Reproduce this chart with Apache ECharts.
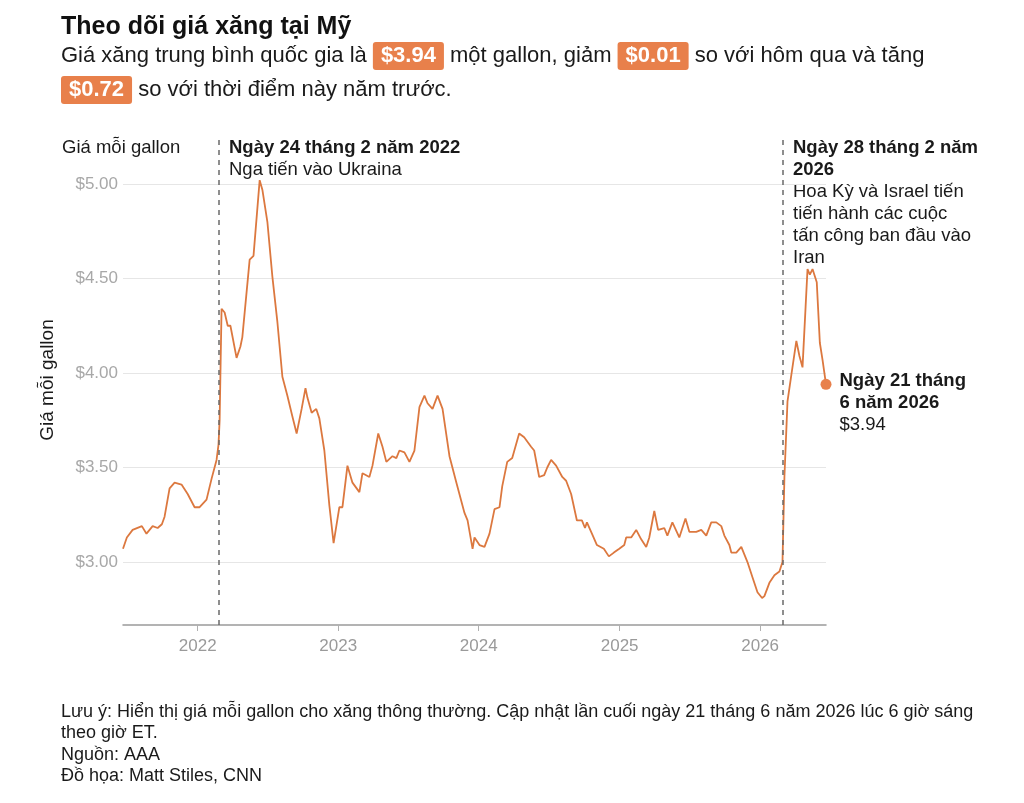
<!DOCTYPE html>
<html><head><meta charset="utf-8">
<script src="https://cdn.jsdelivr.net/npm/echarts@6.0.0/dist/echarts.min.js"></script>
<style>html,body{margin:0;padding:0;background:#fff}#c{width:1024px;height:803px}</style>
</head><body><div id="c"></div>
<script>
const dates = ['2021-06-21','2021-07-01','2021-07-16','2021-08-09','2021-08-21','2021-09-06','2021-09-19','2021-09-30','2021-10-07','2021-10-20','2021-11-02','2021-11-20','2021-12-06','2021-12-24','2022-01-06','2022-01-24','2022-02-06','2022-02-19','2022-02-24','2022-02-27','2022-03-04','2022-03-12','2022-03-20','2022-03-27','2022-04-12','2022-04-22','2022-04-27','2022-05-16','2022-05-26','2022-06-11','2022-06-18','2022-07-01','2022-07-14','2022-07-27','2022-08-09','2022-08-22','2022-09-04','2022-09-15','2022-09-28','2022-10-08','2022-10-13','2022-10-24','2022-11-05','2022-11-13','2022-11-26','2022-12-09','2022-12-20','2022-12-25','2023-01-04','2023-01-12','2023-01-25','2023-02-07','2023-02-25','2023-03-05','2023-03-23','2023-03-31','2023-04-15','2023-04-26','2023-05-06','2023-05-22','2023-06-01','2023-06-09','2023-06-22','2023-07-05','2023-07-18','2023-07-31','2023-08-13','2023-08-21','2023-09-03','2023-09-16','2023-09-29','2023-10-17','2023-11-04','2023-11-25','2023-12-03','2023-12-16','2023-12-21','2024-01-03','2024-01-16','2024-01-29','2024-02-11','2024-02-24','2024-03-02','2024-03-15','2024-03-28','2024-04-15','2024-04-28','2024-05-16','2024-05-24','2024-06-06','2024-06-19','2024-06-27','2024-07-07','2024-07-20','2024-08-05','2024-08-15','2024-08-28','2024-09-12','2024-09-25','2024-10-03','2024-10-08','2024-10-21','2024-11-03','2024-11-21','2024-12-04','2024-12-17','2024-12-31','2025-01-13','2025-01-18','2025-01-31','2025-02-13','2025-02-26','2025-03-11','2025-03-19','2025-04-01','2025-04-11','2025-04-27','2025-05-05','2025-05-18','2025-06-05','2025-06-21','2025-07-01','2025-07-19','2025-08-01','2025-08-14','2025-08-27','2025-09-09','2025-09-22','2025-09-30','2025-10-13','2025-10-18','2025-10-31','2025-11-13','2025-11-18','2025-11-29','2025-12-12','2025-12-25','2026-01-06','2026-01-12','2026-01-25','2026-02-07','2026-02-20','2026-02-28','2026-03-05','2026-03-13','2026-03-23','2026-03-28','2026-04-05','2026-04-13','2026-04-21','2026-04-29','2026-05-04','2026-05-10','2026-05-17','2026-05-28','2026-06-05','2026-06-12','2026-06-21'];
const prices = [3.07,3.13,3.17,3.19,3.15,3.19,3.18,3.20,3.24,3.39,3.42,3.41,3.36,3.29,3.29,3.33,3.44,3.54,3.62,3.75,4.34,4.32,4.25,4.25,4.08,4.14,4.19,4.60,4.62,5.02,4.97,4.80,4.51,4.27,3.98,3.88,3.77,3.68,3.81,3.92,3.87,3.79,3.81,3.76,3.59,3.30,3.10,3.10,3.29,3.29,3.51,3.42,3.37,3.47,3.45,3.51,3.68,3.61,3.53,3.56,3.55,3.59,3.58,3.53,3.59,3.82,3.88,3.84,3.81,3.88,3.81,3.56,3.42,3.26,3.22,3.07,3.13,3.09,3.08,3.15,3.28,3.29,3.40,3.53,3.55,3.68,3.66,3.61,3.59,3.45,3.46,3.50,3.54,3.51,3.45,3.43,3.36,3.22,3.22,3.18,3.21,3.15,3.09,3.07,3.03,3.05,3.07,3.09,3.13,3.13,3.17,3.12,3.08,3.13,3.27,3.17,3.18,3.14,3.21,3.13,3.23,3.16,3.16,3.17,3.14,3.21,3.21,3.19,3.14,3.09,3.05,3.05,3.08,3.08,3.00,2.92,2.84,2.81,2.82,2.89,2.93,2.95,3.00,3.45,3.85,3.99,3.99,4.17,4.09,4.03,4.35,4.55,4.52,4.55,4.48,4.16,4.07,3.94];
const yTickValues = [3.0, 3.5, 4.0, 4.5, 5.0];
const eventDates = ['2022-02-24', '2026-02-28'];
const lastDate = '2026-06-21';
const lastPrice = 3.94;

const FONT = '"Liberation Sans", Arial, Helvetica, sans-serif';
const TXT = '#1a1a1a';
const ORANGE = '#e8804b';
const LINE = '#dc783f';

const chart = echarts.init(document.getElementById('c'), null, {renderer: 'canvas'});
const seriesData = dates.map((d, i) => [d, prices[i]]);

const option = {
  backgroundColor: '#ffffff',
  animation: false,
  textStyle: {fontFamily: FONT},
  grid: {left: 123, right: 198, top: 135, bottom: 178, containLabel: false},
  xAxis: {
    type: 'time',
    min: '2021-06-21',
    max: '2026-06-21',
    minInterval: 360 * 86400000,
    maxInterval: 370 * 86400000,
    splitLine: {show: false},
    axisLine: {show: true, lineStyle: {color: '#9a9a9a', width: 1.5}},
    axisTick: {show: true, length: 6, lineStyle: {color: '#b0b0b0'}},
    axisLabel: {
      color: '#9a9a9a', fontSize: 17, fontFamily: FONT, margin: 13,
      showMinLabel: false, showMaxLabel: false,
      formatter: (v) => String(new Date(v).getFullYear())
    }
  },
  yAxis: {
    type: 'value',
    min: 2.667,
    max: 5.259,
    splitNumber: 5,
    name: 'Giá mỗi gallon',
    nameLocation: 'middle',
    nameRotate: 90,
    nameGap: 66,
    nameTextStyle: {color: TXT, fontSize: 19, fontFamily: FONT},
    axisLine: {show: false},
    axisTick: {show: false},
    splitLine: {show: true, showMinLine: false, showMaxLine: false, lineStyle: {color: '#e6e6e6', width: 1.2}},
    axisLabel: {
      color: '#a8a8a8', fontSize: 17, fontFamily: FONT, margin: 5,
      showMinLabel: false, showMaxLabel: false,
      formatter: (v) => yTickValues.some(t => Math.abs(t - v) < 1e-6) ? '$' + v.toFixed(2) : ''
    }
  },
  series: [{
    type: 'line',
    data: seriesData,
    showSymbol: false,
    symbol: 'none',
    lineStyle: {color: LINE, width: 1.8},
    itemStyle: {color: LINE},
    markLine: {
      silent: true,
      symbol: 'none',
      label: {show: false},
      lineStyle: {type: [5, 5], color: '#6a6a6a', width: 1.5},
      data: eventDates.map(d => ({xAxis: d}))
    },
    markPoint: {
      silent: true,
      symbol: 'circle',
      symbolSize: 11,
      itemStyle: {color: ORANGE},
      label: {
        show: true, position: 'right', distance: 8, offset: [0, 19],
        formatter: '{b|Ngày 21 tháng}\n{b|6 năm 2026}\n{r|$' + lastPrice.toFixed(2) + '}',
        rich: {
          b: {fontWeight: 'bold', fontSize: 18.5, lineHeight: 22, color: TXT, fontFamily: FONT},
          r: {fontSize: 18.5, lineHeight: 22, color: TXT, fontFamily: FONT}
        }
      },
      data: [{coord: [lastDate, lastPrice]}]
    }
  }],
  graphic: [
    {type: 'text', x: 61, y: 15, style: {text: 'Theo dõi giá xăng tại Mỹ', font: 'bold 25px ' + FONT, fill: '#111'}},
    {type: 'text', x: 61, y: 39, style: {
      text: 'Giá xăng trung bình quốc gia là {b|$3.94} một gallon, giảm {b|$0.01} so với hôm qua và tăng\n{b|$0.72} so với thời điểm này năm trước.',
      font: '22px ' + FONT, fill: TXT, lineHeight: 34,
      rich: {
        b: {backgroundColor: ORANGE, borderRadius: 3, padding: [3, 8, 3, 8], fill: '#fff', color: '#fff', font: 'bold 22px ' + FONT, fontWeight: 'bold', fontSize: 22}
      }
    }},
    {type: 'text', x: 62, y: 137, style: {text: 'Giá mỗi gallon', font: '18.5px ' + FONT, fill: TXT, lineHeight: 22}},
    {type: 'text', x: 229, y: 137, style: {
      text: '{b|Ngày 24 tháng 2 năm 2022}\n{r|Nga tiến vào Ukraina}',
      rich: {b: {font: 'bold 18.5px ' + FONT, lineHeight: 22, fill: TXT}, r: {font: '18.5px ' + FONT, lineHeight: 22, fill: TXT}}
    }},
    {type: 'text', x: 793, y: 137, style: {
      text: '{b|Ngày 28 tháng 2 năm}\n{b|2026}\n{r|Hoa Kỳ và Israel tiến}\n{r|tiến hành các cuộc}\n{r|tấn công ban đầu vào}\n{r|Iran}',
      rich: {b: {font: 'bold 18.5px ' + FONT, lineHeight: 22, fill: TXT}, r: {font: '18.5px ' + FONT, lineHeight: 22, fill: TXT}}
    }},
    {type: 'text', x: 61, y: 701, style: {
      text: 'Lưu ý: Hiển thị giá mỗi gallon cho xăng thông thường. Cập nhật lần cuối ngày 21 tháng 6 năm 2026 lúc 6 giờ sáng\ntheo giờ ET.\nNguồn: AAA\nĐồ họa: Matt Stiles, CNN',
      font: '18px ' + FONT, fill: TXT, lineHeight: 21.5
    }}
  ]
};
chart.setOption(option);
</script></body></html>
